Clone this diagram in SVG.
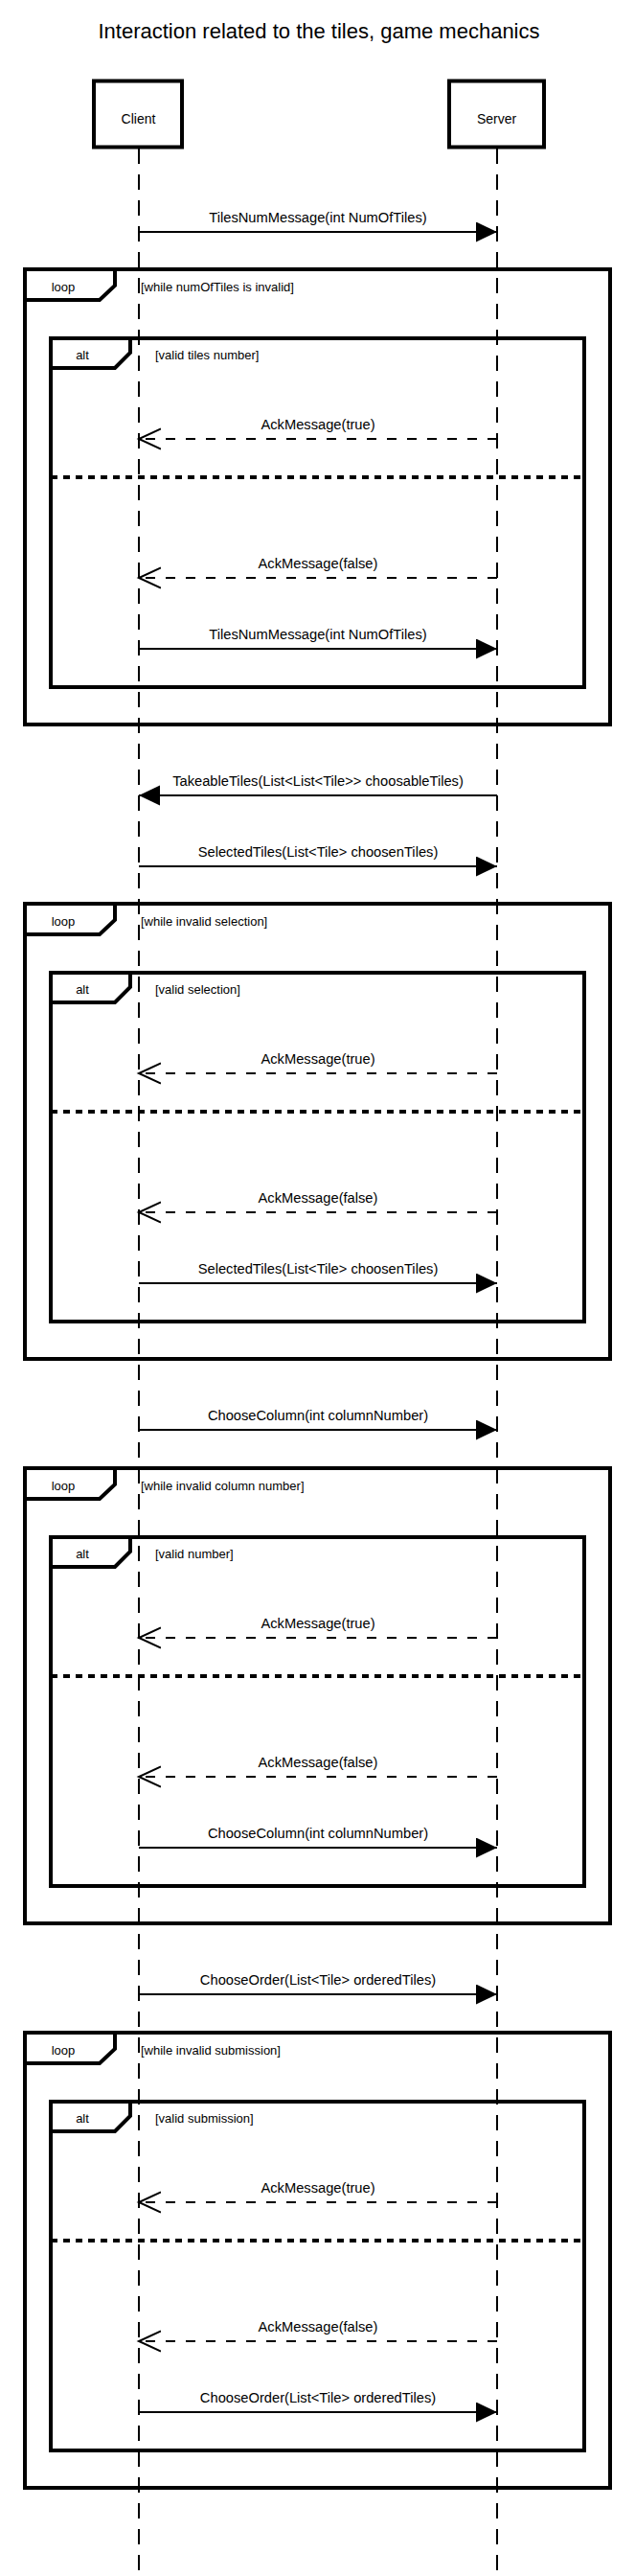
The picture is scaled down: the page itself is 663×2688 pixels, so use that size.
<svg xmlns="http://www.w3.org/2000/svg" width="663" height="2688" viewBox="0 0 663 2688">
<defs>
<style>
text{font-family:"Liberation Sans",Arial,sans-serif;fill:#000}
.title{font-size:22px;text-anchor:middle}
.actor{font-size:14px;text-anchor:middle}
.lbl{font-size:14.7px;text-anchor:middle}
.tag{font-size:13px;text-anchor:middle}
.cond{font-size:13px}
.box{fill:#fff;stroke:#000;stroke-width:4}
.frame{fill:none;stroke:#000;stroke-width:4}
.tab{fill:#fff;stroke:#000;stroke-width:4;stroke-linejoin:miter}
.sep{stroke:#000;stroke-width:4;stroke-dasharray:7 6}
.life{stroke:#000;stroke-width:2;stroke-dasharray:16 11}
.msg{stroke:#000;stroke-width:2;fill:none;marker-end:url(#filled)}
.ret{stroke:#000;stroke-width:2;fill:none;stroke-dasharray:10 11;marker-end:url(#open)}
</style>
<marker id="filled" markerUnits="userSpaceOnUse" markerWidth="24" markerHeight="22" refX="22" refY="10.5" orient="auto">
<path d="M0,0 L22,10.5 L0,21 Z" fill="#000" stroke="none"/>
</marker>
<marker id="open" markerUnits="userSpaceOnUse" markerWidth="26" markerHeight="25" refX="23" refY="12" orient="auto">
<path d="M0,1.5 L23,12 L0,22.5" fill="none" stroke="#000" stroke-width="2" stroke-dasharray="none"/>
</marker>
</defs>
<rect x="0" y="0" width="663" height="2688" fill="#fff"/>
<text class="title" x="333" y="40">Interaction related to the tiles, game mechanics</text>

<g id="frame-loop1">
<rect class="frame" x="26" y="281" width="611" height="475"/>
<path class="tab" d="M26,281 H120 V298 L104,313 H26 Z"/>
<text class="tag" x="66" y="303.5">loop</text>
<text class="cond" x="147" y="303.5">[while numOfTiles is invalid]</text>
</g>
<g id="frame-alt1">
<rect class="frame" x="53" y="353" width="557" height="364"/>
<path class="tab" d="M53,353 H136 V368 L120,384 H53 Z"/>
<text class="tag" x="86" y="374.5">alt</text>
<text class="cond" x="162" y="374.5">[valid tiles number]</text>
<line class="sep" x1="53" y1="498" x2="610" y2="498"/>
</g>

<g id="frame-loop2">
<rect class="frame" x="26" y="943" width="611" height="475"/>
<path class="tab" d="M26,943 H120 V960 L104,975 H26 Z"/>
<text class="tag" x="66" y="965.5">loop</text>
<text class="cond" x="147" y="965.5">[while invalid selection]</text>
</g>
<g id="frame-alt2">
<rect class="frame" x="53" y="1015" width="557" height="364"/>
<path class="tab" d="M53,1015 H136 V1030 L120,1046 H53 Z"/>
<text class="tag" x="86" y="1036.5">alt</text>
<text class="cond" x="162" y="1036.5">[valid selection]</text>
<line class="sep" x1="53" y1="1160" x2="610" y2="1160"/>
</g>

<g id="frame-loop3">
<rect class="frame" x="26" y="1532" width="611" height="475"/>
<path class="tab" d="M26,1532 H120 V1549 L104,1564 H26 Z"/>
<text class="tag" x="66" y="1554.5">loop</text>
<text class="cond" x="147" y="1554.5">[while invalid column number]</text>
</g>
<g id="frame-alt3">
<rect class="frame" x="53" y="1604" width="557" height="364"/>
<path class="tab" d="M53,1604 H136 V1619 L120,1635 H53 Z"/>
<text class="tag" x="86" y="1625.5">alt</text>
<text class="cond" x="162" y="1625.5">[valid number]</text>
<line class="sep" x1="53" y1="1749" x2="610" y2="1749"/>
</g>

<g id="frame-loop4">
<rect class="frame" x="26" y="2121" width="611" height="475"/>
<path class="tab" d="M26,2121 H120 V2138 L104,2153 H26 Z"/>
<text class="tag" x="66" y="2143.5">loop</text>
<text class="cond" x="147" y="2143.5">[while invalid submission]</text>
</g>
<g id="frame-alt4">
<rect class="frame" x="53" y="2193" width="557" height="364"/>
<path class="tab" d="M53,2193 H136 V2208 L120,2224 H53 Z"/>
<text class="tag" x="86" y="2214.5">alt</text>
<text class="cond" x="162" y="2214.5">[valid submission]</text>
<line class="sep" x1="53" y1="2338" x2="610" y2="2338"/>
</g>

<g id="client">
<rect class="box" x="98" y="84.5" width="92" height="69"/>
<text class="actor" x="144.5" y="129">Client</text>
<line class="life" x1="145" y1="155" x2="145" y2="2688"/>
</g>
<g id="server">
<rect class="box" x="469" y="84.5" width="99" height="69"/>
<text class="actor" x="518.5" y="129">Server</text>
<line class="life" x1="519" y1="155" x2="519" y2="2688"/>
</g>

<g id="connectors">
<line class="msg" x1="145" y1="242" x2="519" y2="242"/>
<text class="lbl" x="332" y="232">TilesNumMessage(int NumOfTiles)</text>
<line class="ret" x1="519" y1="458" x2="145" y2="458"/>
<text class="lbl" x="332" y="448">AckMessage(true)</text>
<line class="ret" x1="519" y1="603" x2="145" y2="603"/>
<text class="lbl" x="332" y="593">AckMessage(false)</text>
<line class="msg" x1="145" y1="677" x2="519" y2="677"/>
<text class="lbl" x="332" y="667">TilesNumMessage(int NumOfTiles)</text>

<line class="msg" x1="519" y1="830" x2="145" y2="830"/>
<text class="lbl" x="332" y="820">TakeableTiles(List&lt;List&lt;Tile&gt;&gt; choosableTiles)</text>
<line class="msg" x1="145" y1="904" x2="519" y2="904"/>
<text class="lbl" x="332" y="894">SelectedTiles(List&lt;Tile&gt; choosenTiles)</text>
<line class="ret" x1="519" y1="1120" x2="145" y2="1120"/>
<text class="lbl" x="332" y="1110">AckMessage(true)</text>
<line class="ret" x1="519" y1="1265" x2="145" y2="1265"/>
<text class="lbl" x="332" y="1255">AckMessage(false)</text>
<line class="msg" x1="145" y1="1339" x2="519" y2="1339"/>
<text class="lbl" x="332" y="1329">SelectedTiles(List&lt;Tile&gt; choosenTiles)</text>

<line class="msg" x1="145" y1="1492" x2="519" y2="1492"/>
<text class="lbl" x="332" y="1482">ChooseColumn(int columnNumber)</text>
<line class="ret" x1="519" y1="1709" x2="145" y2="1709"/>
<text class="lbl" x="332" y="1699">AckMessage(true)</text>
<line class="ret" x1="519" y1="1854" x2="145" y2="1854"/>
<text class="lbl" x="332" y="1844">AckMessage(false)</text>
<line class="msg" x1="145" y1="1928" x2="519" y2="1928"/>
<text class="lbl" x="332" y="1918">ChooseColumn(int columnNumber)</text>

<line class="msg" x1="145" y1="2081" x2="519" y2="2081"/>
<text class="lbl" x="332" y="2071">ChooseOrder(List&lt;Tile&gt; orderedTiles)</text>
<line class="ret" x1="519" y1="2298" x2="145" y2="2298"/>
<text class="lbl" x="332" y="2288">AckMessage(true)</text>
<line class="ret" x1="519" y1="2443" x2="145" y2="2443"/>
<text class="lbl" x="332" y="2433">AckMessage(false)</text>
<line class="msg" x1="145" y1="2517" x2="519" y2="2517"/>
<text class="lbl" x="332" y="2507">ChooseOrder(List&lt;Tile&gt; orderedTiles)</text>
</g>
</svg>
